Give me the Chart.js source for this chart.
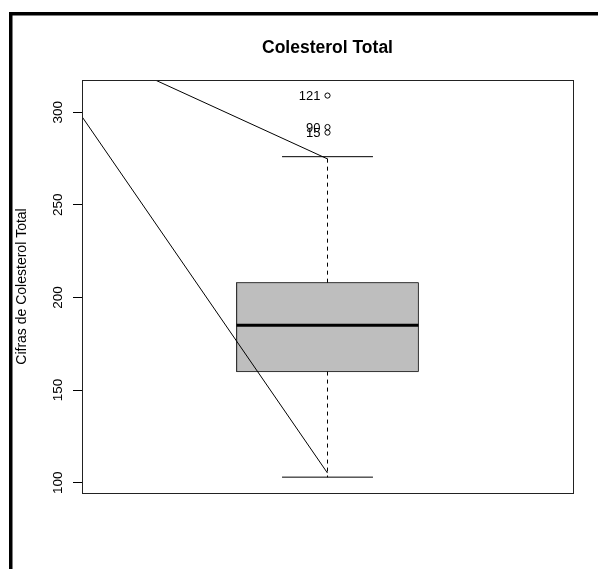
<!DOCTYPE html>
<html>
<head>
<meta charset="utf-8">
<script src="https://cdn.jsdelivr.net/npm/chart.js@4.4.1/dist/chart.umd.min.js"></script>
<style>
  html, body { margin: 0; padding: 0; background: #fff; }
  #wrap { width: 598px; height: 569px; position: relative; }
</style>
</head>
<body>
<div id="wrap"><canvas id="c" width="598" height="569"></canvas></div>
<script>
// ---- data ----
const categories = ['Colesterol Total'];
const quartiles = [160, 185, 208];          // Q1, median, Q3
const whiskerEnds = [103, 276];             // lower, upper
const outlierValues = [309, 292, 289];
const outlierLabels = ['121', '90', '15'];
const yTickValues = [100, 150, 200, 250, 300];
const lineAx = [0.621, 1.0];
const lineAy = [317.4, 274.8];
const lineBx = [0.46, 1.0];
const lineBy = [297.6, 105.2];

// ---- geometry / style constants ----
const BOX_AT = 1;
const BOX_HALF = 0.2;
const CAP_HALF = 0.1;
const FONT = "'Liberation Sans', Arial, sans-serif";

function seg(xs, ys) { return xs.map((x, i) => ({ x: x, y: ys[i] })); }

const [q1, med, q3] = quartiles;
const [wLo, wHi] = whiskerEnds;

// higher "order" is drawn first (underneath)
const datasets = [
  { // box fill
    order: 20,
    data: [{ x: BOX_AT - BOX_HALF, y: q3 }, { x: BOX_AT + BOX_HALF, y: q3 }],
    showLine: true, borderWidth: 0, borderColor: 'rgba(0,0,0,0)', pointRadius: 0,
    backgroundColor: '#bebebe', fill: { value: q1 }
  },
  { // box outline
    order: 19,
    data: [
      { x: BOX_AT - BOX_HALF, y: q1 }, { x: BOX_AT + BOX_HALF, y: q1 },
      { x: BOX_AT + BOX_HALF, y: q3 }, { x: BOX_AT - BOX_HALF, y: q3 },
      { x: BOX_AT - BOX_HALF, y: q1 }
    ],
    showLine: true, borderWidth: 1, borderColor: '#333', pointRadius: 0, fill: false
  },
  { // median
    order: 18,
    data: [{ x: BOX_AT - BOX_HALF, y: med }, { x: BOX_AT + BOX_HALF, y: med }],
    showLine: true, borderWidth: 3, borderColor: '#000', pointRadius: 0
  },
  { // upper whisker
    order: 17,
    data: [{ x: BOX_AT, y: q3 }, { x: BOX_AT, y: wHi }],
    showLine: true, borderWidth: 1, borderColor: '#000', borderDash: [4, 4], pointRadius: 0
  },
  { // lower whisker
    order: 16,
    data: [{ x: BOX_AT, y: q1 }, { x: BOX_AT, y: wLo }],
    showLine: true, borderWidth: 1, borderColor: '#000', borderDash: [4, 4], pointRadius: 0
  },
  { // upper cap
    order: 15,
    data: [{ x: BOX_AT - CAP_HALF, y: wHi }, { x: BOX_AT + CAP_HALF, y: wHi }],
    showLine: true, borderWidth: 1, borderColor: '#000', pointRadius: 0
  },
  { // lower cap
    order: 14,
    data: [{ x: BOX_AT - CAP_HALF, y: wLo }, { x: BOX_AT + CAP_HALF, y: wLo }],
    showLine: true, borderWidth: 1, borderColor: '#000', pointRadius: 0
  },
  { // outliers
    order: 13,
    data: outlierValues.map(v => ({ x: BOX_AT, y: v })),
    showLine: false, pointRadius: 2.6, pointBorderWidth: 1,
    pointBorderColor: '#000', pointBackgroundColor: 'rgba(0,0,0,0)'
  },
  { // diagonal line A
    order: 2,
    data: seg(lineAx, lineAy),
    showLine: true, borderWidth: 1, borderColor: '#000', pointRadius: 0
  },
  { // diagonal line B
    order: 1,
    data: seg(lineBx, lineBy),
    showLine: true, borderWidth: 1, borderColor: '#000', pointRadius: 0
  }
];

const decor = {
  id: 'decor',
  afterDraw(chart) {
    const ctx = chart.ctx;
    const a = chart.chartArea;
    const xs = chart.scales.x, ys = chart.scales.y;
    ctx.save();
    // outlier labels
    ctx.fillStyle = '#000';
    ctx.font = '13px ' + FONT;
    ctx.textAlign = 'right';
    ctx.textBaseline = 'middle';
    outlierValues.forEach((v, i) => {
      ctx.fillText(outlierLabels[i], xs.getPixelForValue(BOX_AT) - 7, ys.getPixelForValue(v) + 1);
    });
    // plot frame
    ctx.strokeStyle = '#222';
    ctx.lineWidth = 1;
    ctx.strokeRect(Math.round(a.left) + 0.5, Math.round(a.top) + 0.5,
                   Math.round(a.right - a.left), Math.round(a.bottom - a.top));
    // outer figure frame
    ctx.fillStyle = '#000';
    ctx.fillRect(9, 12, 598 - 9, 3.5);
    ctx.fillRect(9, 12, 3.5, 569 - 12);
    ctx.restore();
  }
};

new Chart(document.getElementById('c'), {
  type: 'scatter',
  data: { labels: categories, datasets: datasets },
  options: {
    responsive: false,
    animation: false,
    events: [],
    layout: { padding: { left: 0, right: 25, top: 0, bottom: 76 } },
    plugins: {
      legend: { display: false },
      tooltip: { enabled: false },
      title: {
        display: true,
        text: categories[0],
        fullSize: false,
        color: '#000',
        font: { family: FONT, size: 17.5, weight: 'bold', lineHeight: 1.2 },
        padding: { top: 38, bottom: 21 }
      }
    },
    scales: {
      x: {
        type: 'linear', min: 0.46, max: 1.54, display: false
      },
      y: {
        type: 'linear', min: 94.44, max: 317.4,
        afterFit(scale) { scale.width = 82; },
        afterBuildTicks(scale) { scale.ticks = yTickValues.map(v => ({ value: v })); },
        grid: { display: true, drawOnChartArea: false, drawTicks: true, tickLength: 9, color: '#000', tickWidth: 1 },
        border: { display: true, color: '#222', width: 1 },
        ticks: {
          color: '#000', font: { family: FONT, size: 13.5 },
          minRotation: 90, maxRotation: 90, crossAlign: 'center', padding: 3,
          callback: (v) => String(v)
        },
        title: {
          display: true, text: 'Cifras de Colesterol Total', color: '#000',
          font: { family: FONT, size: 14 }, padding: { top: 14, bottom: 0 }
        }
      }
    }
  },
  plugins: [decor]
});
</script>
</body>
</html>
